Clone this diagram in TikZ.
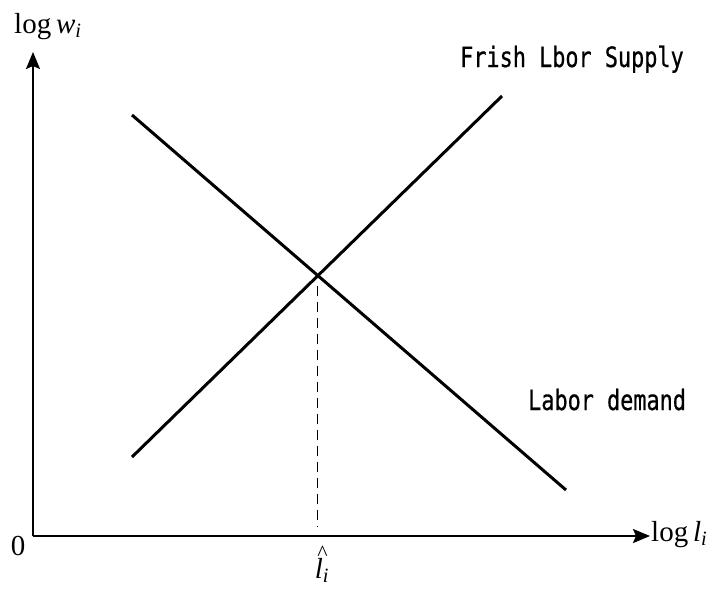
\documentclass[tikz,border=0pt]{standalone}
\usepackage{fontspec}
\setmainfont{Liberation Serif}
\newfontfamily\gothic[FakeStretch=0.78,FakeBold=0.6]{DejaVu Sans Mono}
\usetikzlibrary{arrows.meta}
\begin{document}
\begin{tikzpicture}[x=1pt,y=-1pt,
  axisline/.style={line width=2.2pt,-{Stealth[length=17pt,width=14pt,inset=3pt]}},
  curveline/.style={line width=3pt},
  dashline/.style={line width=1pt,dash pattern=on 10pt off 6pt},
  serlab/.style={inner sep=0pt,font=\fontsize{29}{31}\selectfont},
  gotlab/.style={inner sep=0pt,font=\gothic\fontsize{28}{30}\selectfont}]
\useasboundingbox (0,0) rectangle (717,592);
\fill[white] (0,0) rectangle (717,592);
\coordinate (O) at (33,536);
\coordinate (ytip) at (33,52);
\coordinate (xtip) at (650,536);
\draw[axisline] (O) -- (ytip);
\draw[axisline] (O) -- (xtip);
\coordinate (s1) at (132,457);
\coordinate (s2) at (502,96);
\coordinate (d1) at (132,115);
\coordinate (d2) at (566,490);
\draw[curveline] (s1) -- (s2);
\draw[curveline] (d1) -- (d2);
\coordinate (E) at (intersection of s1--s2 and d1--d2);
\coordinate (F) at (E |- O);
\draw[dashline,shorten <=10pt,shorten >=10pt] (E) -- (F);
\node[serlab,anchor=base west] (ylab) at (14,33) {log\,\textit{w}\textsubscript{\textit{i}}};
\node[serlab,anchor=base west] (xlab) at (651,541) {log\,\textit{l}\textsubscript{\textit{i}}};
\node[serlab,anchor=base] (zero) at (18,555) {0};
\node[serlab,anchor=base] (lhat) at (322,578) {\makebox[0pt][l]{\raisebox{0.62em}{\kern2.5pt\fontsize{22}{24}\selectfont\^{}}}\textit{l}\textsubscript{\textit{i}}};
\node[gotlab,anchor=base west] (supply) at (460,67) {Frish Lbor Supply};
\node[gotlab,anchor=base west] (demand) at (528,410) {Labor demand};
\end{tikzpicture}
\end{document}
